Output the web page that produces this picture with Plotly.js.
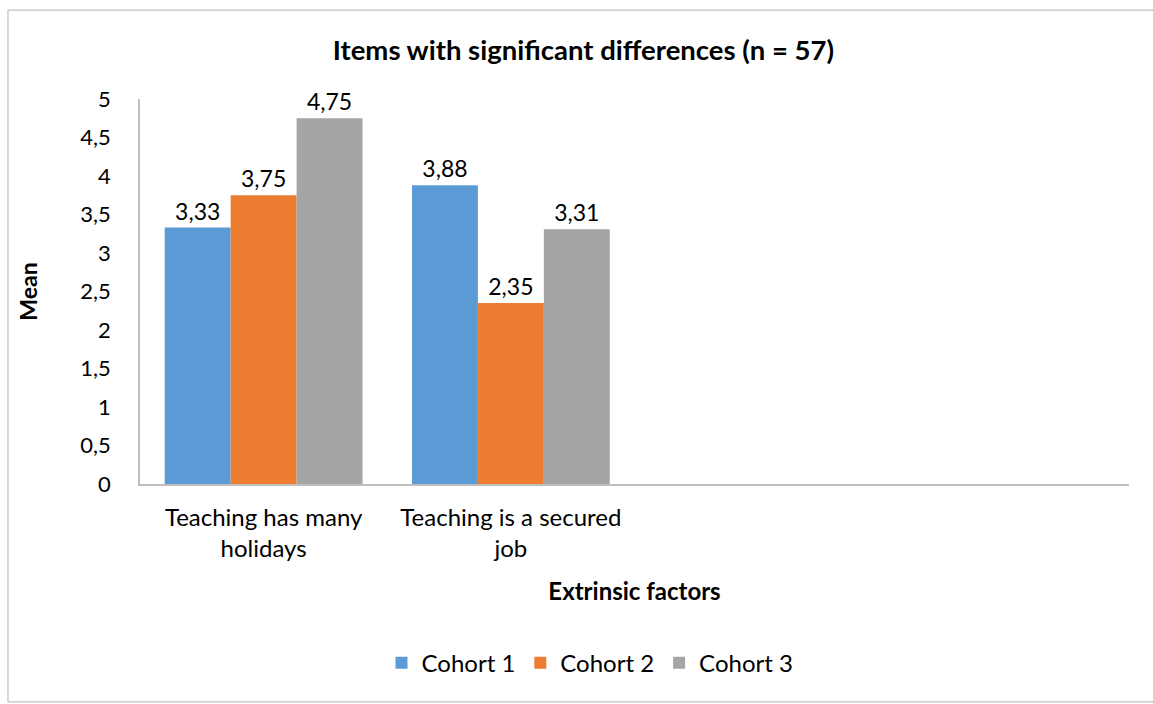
<!DOCTYPE html>
<html>
<head>
<meta charset="utf-8">
<script src="https://cdn.plot.ly/plotly-3.0.1.min.js"></script>
<style>html,body{margin:0;padding:0;background:#fff;}#chart{width:1153px;height:704px;}</style>
</head>
<body>
<div id="chart"></div>
<script>
const categories = ['Teaching has many<br>holidays', 'Teaching is a secured<br>job'];
const seriesNames = ['Cohort 1', 'Cohort 2', 'Cohort 3'];
const cohort1 = [3.33, 3.88];
const cohort2 = [3.75, 2.35];
const cohort3 = [4.75, 3.31];
const colors = ['#5B9BD5', '#ED7D31', '#A5A5A5'];
const yTickVals = [0, 0.5, 1, 1.5, 2, 2.5, 3, 3.5, 4, 4.5, 5];

const FONT = 'Lato, Carlito, Calibri, "Open Sans", sans-serif';
const values = [cohort1, cohort2, cohort3];
const traces = values.map((v, i) => ({
  type: 'bar',
  name: seriesNames[i],
  x: categories,
  y: v,
  marker: {color: colors[i]},
  texttemplate: '%{y:.2f}',
  textposition: 'outside',
  textfont: {family: FONT, size: 23, color: '#000'},
  cliponaxis: false,
  hoverinfo: 'x+y+name'
}));

const layout = {
  width: 1153, height: 704,
  margin: {l: 140, r: 24, t: 99, b: 220},
  paper_bgcolor: '#fff', plot_bgcolor: '#fff',
  separators: ', ',
  font: {family: FONT, size: 22, color: '#000'},
  barmode: 'group', bargap: 0.2, bargroupgap: 0,
  title: {
    text: '<b>Items with significant differences (n = 57)</b>',
    font: {family: FONT, size: 27.5, color: '#000'},
    xref: 'container', x: 0.506, xanchor: 'center',
    yref: 'container', y: 0.929, yanchor: 'middle'
  },
  xaxis: {
    type: 'category',
    range: [-0.5, 3.5],
    showline: true, linecolor: '#BFBFBF', linewidth: 1.5,
    showgrid: false, zeroline: false,
    ticks: 'outside', ticklen: 11, tickcolor: 'rgba(0,0,0,0)',
    tickfont: {family: FONT, size: 24, color: '#000'},
    title: {text: '<b>Extrinsic factors</b>', font: {family: FONT, size: 24, color: '#000'}, standoff: 22},
    automargin: false
  },
  yaxis: {
    range: [0, 5],
    tickvals: yTickVals,
    tickformat: '.1~f',
    showline: true, linecolor: '#BFBFBF', linewidth: 1.5,
    showgrid: false, zeroline: false,
    ticks: 'outside', ticklen: 23, tickcolor: 'rgba(0,0,0,0)',
    tickfont: {family: FONT, size: 22, color: '#000'},
    title: {text: '<b>Mean</b>', font: {family: FONT, size: 23, color: '#000'}, standoff: 36},
    automargin: false
  },
  legend: {
    orientation: 'h',
    x: 0.455, xanchor: 'center',
    y: -0.465, yanchor: 'middle',
    font: {family: FONT, size: 24, color: '#000'},
    itemclick: false
  },
  showlegend: true,
  shapes: [{
    type: 'rect', xref: 'paper', yref: 'paper',
    x0: -0.1335, x1: 1.04, y0: -0.566, y1: 1.231,
    line: {color: '#BFBFBF', width: 1.2}, fillcolor: 'rgba(0,0,0,0)', layer: 'below'
  }]
};

Plotly.newPlot('chart', traces, layout, {displayModeBar: false, staticPlot: false});
</script>
</body>
</html>
